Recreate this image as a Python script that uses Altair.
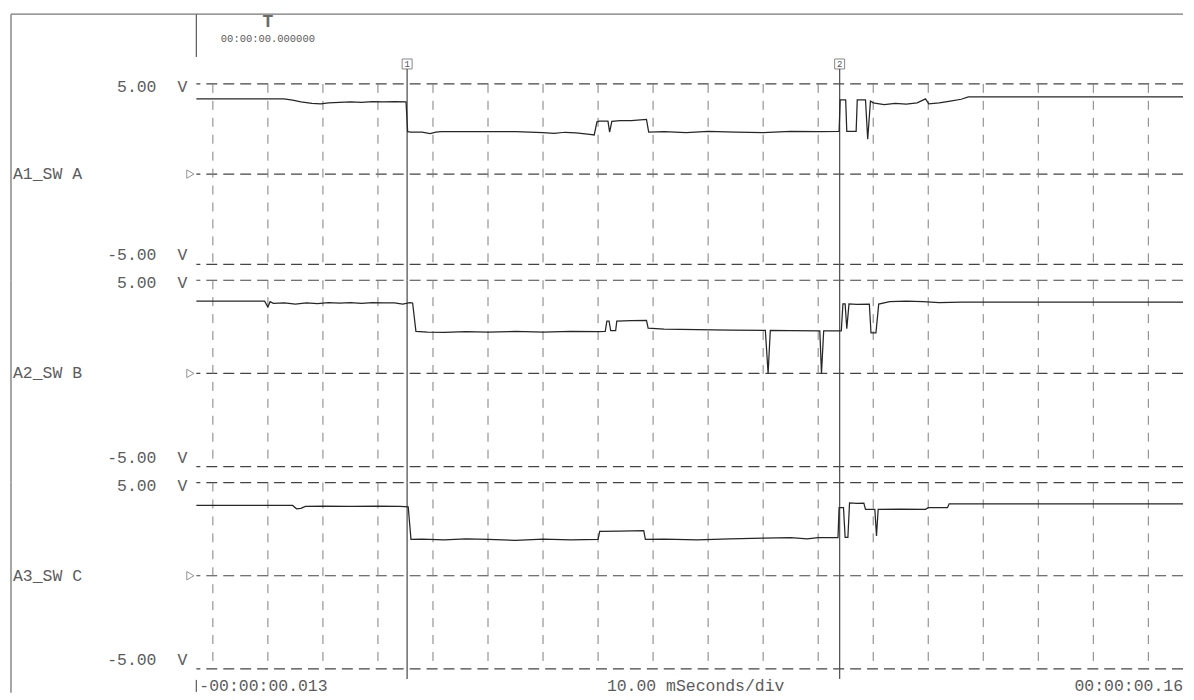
import altair as alt
import pandas as pd

# ---------------- data (time in ms, voltage in V) ----------------
channel_names = ["A1_SW A", "A2_SW B", "A3_SW C"]

sw_a = [(-13, 4.17), (2.9, 4.17), (4.5, 4.1), (6, 4.0), (8, 3.92), (9.6, 3.89), (11, 3.95),
        (13, 3.98), (15, 4.0), (17, 3.97), (19, 4.02), (21, 4.0), (23, 4.02), (25.1, 4.0),
        (25.4, 2.35), (26, 2.33), (28, 2.33), (29.5, 2.25), (30.5, 2.33), (31.5, 2.35),
        (35, 2.35), (40, 2.36), (45, 2.35), (50, 2.3), (52, 2.26), (54, 2.32), (56, 2.28),
        (58.5, 2.2), (59.3, 2.17), (59.8, 2.9), (60.2, 2.94), (61.8, 2.94), (62.1, 2.33),
        (62.5, 2.92), (64, 2.96), (66, 2.97), (68.8, 3.03), (69.2, 2.33), (72, 2.35), (76, 2.3),
        (80, 2.37), (85, 2.33), (90, 2.3), (95, 2.37), (100, 2.35), (103.8, 2.37), (104.0, 4.11),
        (105.0, 4.11), (105.2, 2.37), (106.9, 2.37), (107.1, 4.11), (108.6, 4.11), (109.0, 1.94),
        (109.5, 4.05), (110, 3.95), (112, 3.85), (114, 3.92), (116, 3.88), (118, 3.95),
        (119.5, 4.17), (120.1, 3.89), (122, 3.95), (124, 4.05), (126, 4.15), (127.3, 4.28),
        (135, 4.28), (150, 4.28), (166.3, 4.28)]

sw_b = [(-13, 3.88), (-0.6, 3.88), (0.0, 3.56), (0.4, 3.85), (1.0, 3.76), (3, 3.78), (5, 3.72),
        (7, 3.78), (9, 3.75), (11, 3.8), (13, 3.77), (15, 3.8), (17, 3.76), (19, 3.8), (21, 3.78),
        (23, 3.79), (24.5, 3.72), (25.8, 3.8), (26.3, 3.78), (26.9, 2.26), (29, 2.22), (32, 2.2),
        (36, 2.24), (40, 2.22), (45, 2.25), (50, 2.22), (55, 2.26), (60, 2.24), (61.3, 2.26),
        (61.6, 2.8), (62.0, 2.8), (62.3, 2.3), (63.2, 2.3), (63.4, 2.81), (66, 2.83), (68.8, 2.85),
        (69.1, 2.43), (72, 2.38), (78, 2.35), (84, 2.33), (90.4, 2.31), (90.9, 0.0), (91.3, 2.31),
        (95, 2.3), (100.3, 2.28), (100.6, 0.0), (101.0, 2.28), (104.2, 2.28), (104.5, 3.73),
        (104.9, 3.73), (105.2, 2.4), (105.6, 3.73), (107, 3.7), (109.3, 3.72), (109.6, 2.18),
        (110.5, 2.18), (111.0, 3.72), (113, 3.85), (116, 3.88), (119, 3.85), (122, 3.8),
        (126, 3.82), (135, 3.82), (150, 3.82), (166.3, 3.82)]

sw_c = [(-13, 3.77), (4.5, 3.77), (5.2, 3.59), (6.0, 3.62), (6.8, 3.72), (10, 3.74), (15, 3.72),
        (20, 3.74), (24, 3.72), (25.5, 3.7), (26.0, 1.95), (28, 1.97), (32, 1.92), (36, 1.98),
        (40, 1.95), (45, 1.9), (50, 1.96), (55, 1.93), (60.0, 1.95), (60.3, 2.38), (64, 2.4),
        (68.3, 2.42), (68.6, 1.95), (72, 1.97), (78, 1.93), (84, 1.98), (90, 2.02), (95, 2.04),
        (98, 1.98), (100, 2.04), (103.6, 2.04), (103.8, 3.65), (104.6, 3.65), (104.9, 2.06),
        (105.4, 2.06), (105.7, 3.91), (107, 3.88), (108.3, 3.9), (108.6, 3.56), (110.3, 3.56),
        (110.6, 2.13), (110.9, 3.56), (115, 3.58), (119.5, 3.56), (120, 3.65), (123.5, 3.65),
        (123.8, 3.86), (135, 3.86), (150, 3.86), (166.3, 3.86)]

grid_ms = list(range(-10, 161, 10))
grid_v = [-5, 0, 5]
cursor_ms = [25.3, 103.9]
cursor_labels = ["1", "2"]
x_domain = [-13.0, 166.3]
y_domain = [-5, 5]
volt_top_label = "5.00"
volt_bottom_label = "-5.00"
unit_label = "V"
trigger_ms = [0]
trigger_label = "00:00:00.000000"
time_left_label = "-00:00:00.013"
time_mid_label = "10.00 mSeconds/div"
time_right_label = "00:00:00.16"

# ---------------- styling ----------------
W, GAP = 990, 16
HEIGHTS = [181, 187, 187]
FONT = "Liberation Mono"
FS = 16.5
TXT = "#5c5c5c"
LINE = "#555555"

xs = alt.Scale(domain=x_domain, nice=False, zero=False)
ys = alt.Scale(domain=y_domain, nice=False, zero=False)


def panel(idx, name, pts):
    H = HEIGHTS[idx]
    df = pd.DataFrame(pts, columns=["t", "v"])
    X = alt.X("t:Q", scale=xs, axis=None)
    Y = alt.Y("v:Q", scale=ys, axis=None)

    hgrid = alt.Chart(pd.DataFrame({"v": grid_v})).mark_rule(
        strokeDash=[11, 6], color="#444444", strokeWidth=1.2
    ).encode(y=Y)
    vgrid = alt.Chart(pd.DataFrame({"t": grid_ms})).mark_rule(
        strokeDash=[9, 8], color="#808080", strokeWidth=1
    ).encode(x=X)
    trace = alt.Chart(df).mark_line(color="#262626", strokeWidth=1.25).encode(x=X, y=Y)

    ytop = -15 if idx == 0 else 0
    ybot = H + GAP if idx < 2 else H + 10
    cur = alt.Chart(pd.DataFrame({"t": cursor_ms})).mark_rule(
        color=LINE, strokeWidth=1.3
    ).encode(x=X, y=alt.value(ytop), y2=alt.value(ybot))

    lbl_df = pd.DataFrame({"v": [5, -5], "txt": [volt_top_label, volt_bottom_label]})
    top_lbl = alt.Chart(lbl_df.iloc[[0]]).mark_text(
        align="right", baseline="middle", dy=3, font=FONT, fontSize=FS, color=TXT
    ).encode(x=alt.value(-40), y=Y, text="txt:N")
    bot_lbl = alt.Chart(lbl_df.iloc[[1]]).mark_text(
        align="right", baseline="middle", dy=-9, font=FONT, fontSize=FS, color=TXT
    ).encode(x=alt.value(-40), y=Y, text="txt:N")
    unit_df = pd.DataFrame({"v": [5, -5], "u": [unit_label, unit_label]})
    u_top = alt.Chart(unit_df.iloc[[0]]).mark_text(
        align="center", baseline="middle", dy=3, font=FONT, fontSize=FS, color=TXT
    ).encode(x=alt.value(-14), y=Y, text="u:N")
    u_bot = alt.Chart(unit_df.iloc[[1]]).mark_text(
        align="center", baseline="middle", dy=-9, font=FONT, fontSize=FS, color=TXT
    ).encode(x=alt.value(-14), y=Y, text="u:N")

    name_df = pd.DataFrame({"v": [0], "name": [name]})
    name_txt = alt.Chart(name_df).mark_text(
        align="left", baseline="middle", font=FONT, fontSize=FS, color=TXT
    ).encode(x=alt.value(-184), y=Y, text="name:N")
    zero_mark = alt.Chart(name_df).mark_point(
        shape="triangle-right", filled=False, size=70, color="#666666", strokeWidth=1
    ).encode(x=alt.value(-6), y=Y)

    frame_top = -70 if idx == 0 else 0
    frame_bot = H + GAP if idx < 2 else H + 24
    left_frame = alt.Chart(name_df).mark_rule(color="#777777", strokeWidth=1.3).encode(
        x=alt.value(-186), y=alt.value(frame_top), y2=alt.value(frame_bot)
    )

    layers = [hgrid, vgrid, cur, trace, top_lbl, bot_lbl, u_top, u_bot, name_txt, zero_mark, left_frame]

    if idx == 0:
        hdr = pd.DataFrame({"t": trigger_ms, "lab": [trigger_label], "T": ["T"]})
        top_line = alt.Chart(hdr).mark_rule(color="#777777", strokeWidth=1.3).encode(
            x=alt.value(-186), x2=alt.value(W), y=alt.value(-70)
        )
        hdr_bar = alt.Chart(hdr).mark_rule(color="#666666", strokeWidth=1.3).encode(
            x=alt.value(0), y=alt.value(-70), y2=alt.value(-27)
        )
        t_mark = alt.Chart(hdr).mark_text(
            font=FONT, fontSize=18, fontWeight="bold", color="#6a6a6a", baseline="middle"
        ).encode(x=X, y=alt.value(-62), text="T:N")
        t_lab = alt.Chart(hdr).mark_text(
            font=FONT, fontSize=10.5, color="#5a5a5a", baseline="middle"
        ).encode(x=X, y=alt.value(-45), text="lab:N")
        cdf = pd.DataFrame({"t": cursor_ms, "n": cursor_labels})
        boxes = alt.Chart(cdf).mark_square(filled=False, size=100, color=LINE, strokeWidth=1).encode(
            x=X, y=alt.value(-20)
        )
        nums = alt.Chart(cdf).mark_text(
            font=FONT, fontSize=9, color=LINE, baseline="middle"
        ).encode(x=X, y=alt.value(-20), text="n:N")
        layers += [top_line, hdr_bar, t_mark, t_lab, boxes, nums]

    if idx == 2:
        tdf = pd.DataFrame({"a": [time_left_label], "b": [time_mid_label], "c": [time_right_label]})
        bar = alt.Chart(tdf).mark_rule(color="#666666", strokeWidth=1.3).encode(
            x=alt.value(0), y=alt.value(H + 11), y2=alt.value(H + 23)
        )
        tl = alt.Chart(tdf).mark_text(
            align="left", baseline="middle", font=FONT, fontSize=FS, color=TXT
        ).encode(x=alt.value(3), y=alt.value(H + 17), text="a:N")
        tm = alt.Chart(tdf).mark_text(
            align="center", baseline="middle", font=FONT, fontSize=FS, color=TXT
        ).encode(x=alt.value(501), y=alt.value(H + 17), text="b:N")
        tr = alt.Chart(tdf).mark_text(
            align="right", baseline="middle", font=FONT, fontSize=FS, color=TXT
        ).encode(x=alt.value(W), y=alt.value(H + 17), text="c:N")
        layers += [bar, tl, tm, tr]

    return alt.layer(*layers).properties(width=W, height=H)


p1 = panel(0, channel_names[0], sw_a)
p2 = panel(1, channel_names[1], sw_b)
p3 = panel(2, channel_names[2], sw_c)

chart = alt.vconcat(p1, p2, p3, spacing=GAP, bounds="flush").properties(
    padding={"left": 2, "top": 4, "right": 0, "bottom": 0},
    background="white",
).configure_view(stroke=None)

chart.save("out.html", embed_options={"renderer": "svg", "actions": False})
